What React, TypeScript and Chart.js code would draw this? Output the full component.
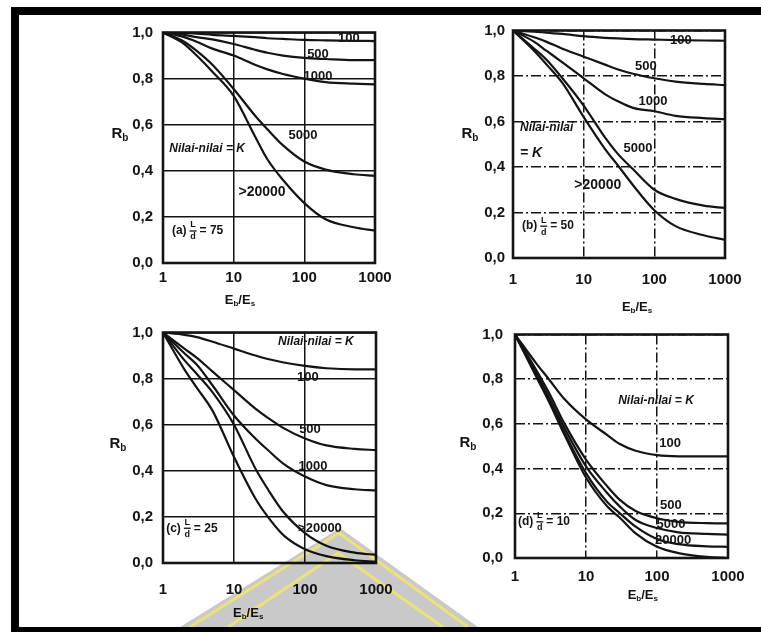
import React, { useEffect, useRef } from "react";
import { Chart, registerables } from "chart.js";

Chart.register(...registerables);

// ---------------- data ----------------
const EB_ES = [1, 2, 3, 5, 10, 20, 30, 50, 100, 200, 500, 1000];
const X_TICKS = [1, 10, 100, 1000];
const Y_TICKS = [0, 0.2, 0.4, 0.6, 0.8, 1.0];

// (a) L/d = 75
const A_K100 = [1, 0.998, 0.995, 0.99, 0.985, 0.98, 0.975, 0.972, 0.968, 0.966, 0.964, 0.963];
const A_K500 = [1, 0.99, 0.98, 0.97, 0.95, 0.925, 0.912, 0.9, 0.89, 0.885, 0.88, 0.88];
const A_K1000 = [1, 0.98, 0.96, 0.93, 0.9, 0.86, 0.84, 0.82, 0.8, 0.785, 0.778, 0.775];
const A_K5000 = [1, 0.96, 0.92, 0.86, 0.755, 0.64, 0.58, 0.51, 0.44, 0.405, 0.385, 0.378];
const A_K20000 = [1, 0.95, 0.9, 0.83, 0.725, 0.55, 0.45, 0.36, 0.26, 0.19, 0.155, 0.14];

// (b) L/d = 50
const B_K100 = [1, 0.995, 0.99, 0.985, 0.975, 0.968, 0.965, 0.962, 0.96, 0.958, 0.956, 0.955];
const B_K500 = [1, 0.97, 0.95, 0.92, 0.885, 0.85, 0.83, 0.81, 0.79, 0.775, 0.765, 0.76];
const B_K1000 = [1, 0.95, 0.91, 0.86, 0.79, 0.72, 0.69, 0.66, 0.645, 0.625, 0.615, 0.61];
const B_K5000 = [1, 0.92, 0.87, 0.79, 0.67, 0.53, 0.46, 0.39, 0.3, 0.26, 0.23, 0.22];
const B_K20000 = [1, 0.91, 0.85, 0.77, 0.62, 0.48, 0.41, 0.32, 0.21, 0.14, 0.1, 0.08];

// (c) L/d = 25
const C_K100 = [1, 0.99, 0.98, 0.96, 0.93, 0.9, 0.885, 0.87, 0.855, 0.845, 0.84, 0.84];
const C_K500 = [1, 0.93, 0.89, 0.83, 0.75, 0.67, 0.63, 0.585, 0.54, 0.51, 0.495, 0.49];
const C_K1000 = [1, 0.91, 0.86, 0.77, 0.64, 0.54, 0.49, 0.43, 0.375, 0.338, 0.32, 0.315];
const C_K5000 = [1, 0.88, 0.82, 0.74, 0.6, 0.41, 0.32, 0.22, 0.13, 0.075, 0.045, 0.035];
const C_K20000 = [1, 0.84, 0.76, 0.66, 0.46, 0.28, 0.2, 0.12, 0.06, 0.03, 0.012, 0.005];

// (d) L/d = 10
const D_K100 = [1, 0.87, 0.8, 0.71, 0.62, 0.55, 0.51, 0.48, 0.46, 0.455, 0.455, 0.455];
const D_K500 = [1, 0.84, 0.74, 0.6, 0.44, 0.32, 0.26, 0.21, 0.178, 0.162, 0.156, 0.155];
const D_K1000 = [1, 0.83, 0.72, 0.58, 0.41, 0.29, 0.23, 0.17, 0.134, 0.115, 0.108, 0.105];
const D_K5000 = [1, 0.82, 0.71, 0.56, 0.38, 0.25, 0.2, 0.14, 0.085, 0.062, 0.052, 0.05];
const D_K20000 = [1, 0.81, 0.7, 0.55, 0.36, 0.23, 0.18, 0.11, 0.05, 0.022, 0.005, 0];

// ---------------- styling ----------------
const INK = "#141414";
const FONT = '"Liberation Sans", Arial, sans-serif';
const DASH_DOT = [10, 3, 2, 3];

type Lbl = { t: string; fx: number; fy: number; italic?: boolean; align?: CanvasTextAlign; size?: number };
type PanelCfg = {
  left: number; top: number; w: number; h: number;
  padTop: number; padRight: number; yw: number; xh: number;
  ypad: number; xpad: number; dashed: boolean;
  series: number[][];
  labels: Lbl[];
  frac: { prefix: string; suffix: string; fx: number; fy: number };
  rb: { dx: number; fy: number };
  xt: { fx: number; dy: number };
};

const PANELS: PanelCfg[] = [
  {
    left: 95, top: 15, w: 305, h: 300, padTop: 10, padRight: 25, yw: 68, xh: 52, ypad: 10, xpad: 7, dashed: false,
    series: [A_K100, A_K500, A_K1000, A_K5000, A_K20000],
    labels: [
      { t: "100", fx: 0.877, fy: 0.027 },
      { t: "500", fx: 0.731, fy: 0.097 },
      { t: "1000", fx: 0.731, fy: 0.189 },
      { t: "5000", fx: 0.66, fy: 0.445 },
      { t: ">20000", fx: 0.467, fy: 0.693, size: 14 },
      { t: "Nilai-nilai = K", fx: 0.208, fy: 0.504, italic: true },
    ],
    frac: { prefix: "(a)", suffix: "= 75", fx: 0.042, fy: 0.861 },
    rb: { dx: -43, fy: 0.44 },
    xt: { fx: 0.363, dy: 37 },
  },
  {
    left: 445, top: 15, w: 316, h: 300, padTop: 8, padRight: 36, yw: 68, xh: 57, ypad: 8, xpad: 14, dashed: true,
    series: [B_K100, B_K500, B_K1000, B_K5000, B_K20000],
    labels: [
      { t: "100", fx: 0.792, fy: 0.043 },
      { t: "500", fx: 0.627, fy: 0.157 },
      { t: "1000", fx: 0.66, fy: 0.311 },
      { t: "5000", fx: 0.59, fy: 0.519 },
      { t: ">20000", fx: 0.4, fy: 0.68, size: 14 },
      { t: "Nilai-nilai", fx: 0.033, fy: 0.426, italic: true, align: "left" },
      { t: "= K", fx: 0.033, fy: 0.54, italic: true, align: "left", size: 14 },
    ],
    frac: { prefix: "(b)", suffix: "= 50", fx: 0.042, fy: 0.86 },
    rb: { dx: -43, fy: 0.455 },
    xt: { fx: 0.585, dy: 49 },
  },
  {
    left: 95, top: 315, w: 318, h: 312, padTop: 10, padRight: 37, yw: 68, xh: 64, ypad: 10, xpad: 19, dashed: false,
    series: [C_K100, C_K500, C_K1000, C_K5000, C_K20000],
    labels: [
      { t: "Nilai-nilai = K", fx: 0.718, fy: 0.042, italic: true },
      { t: "100", fx: 0.68, fy: 0.197 },
      { t: "500", fx: 0.69, fy: 0.42 },
      { t: "1000", fx: 0.704, fy: 0.58 },
      { t: ">20000", fx: 0.737, fy: 0.849 },
    ],
    frac: { prefix: "(c)", suffix: "= 25", fx: 0.015, fy: 0.849 },
    rb: { dx: -45, fy: 0.483 },
    xt: { fx: 0.4, dy: 50 },
  },
  {
    left: 445, top: 315, w: 316, h: 312, padTop: 8, padRight: 33, yw: 70, xh: 69, ypad: 12, xpad: 11, dashed: true,
    series: [D_K100, D_K500, D_K1000, D_K5000, D_K20000],
    labels: [
      { t: "Nilai-nilai = K", fx: 0.662, fy: 0.294, italic: true },
      { t: "100", fx: 0.728, fy: 0.489 },
      { t: "500", fx: 0.732, fy: 0.766 },
      { t: "5000", fx: 0.732, fy: 0.851 },
      { t: "20000", fx: 0.742, fy: 0.923 },
    ],
    frac: { prefix: "(d)", suffix: "= 10", fx: 0.014, fy: 0.838 },
    rb: { dx: -47, fy: 0.485 },
    xt: { fx: 0.6, dy: 37 },
  },
];

function drawParts(ctx: CanvasRenderingContext2D, parts: [string, boolean][], cx: number, cy: number, size: number) {
  const big = `bold ${size}px ${FONT}`;
  const small = `bold ${Math.round(size * 0.65)}px ${FONT}`;
  let total = 0;
  for (const [t, sub] of parts) {
    ctx.font = sub ? small : big;
    total += ctx.measureText(t).width;
  }
  let x = cx - total / 2;
  ctx.textAlign = "left";
  ctx.textBaseline = "middle";
  for (const [t, sub] of parts) {
    ctx.font = sub ? small : big;
    ctx.fillText(t, x, sub ? cy + size * 0.3 : cy);
    x += ctx.measureText(t).width;
  }
}

function drawFrac(ctx: CanvasRenderingContext2D, x: number, y: number, prefix: string, suffix: string) {
  ctx.textBaseline = "middle";
  ctx.textAlign = "left";
  ctx.font = `bold 12px ${FONT}`;
  ctx.fillText(prefix, x, y);
  let cx = x + ctx.measureText(prefix).width + 3;
  const fw = 7;
  ctx.font = `bold 9px ${FONT}`;
  ctx.textAlign = "center";
  ctx.fillText("L", cx + fw / 2, y - 6);
  ctx.fillText("d", cx + fw / 2, y + 6);
  ctx.fillRect(cx, y - 0.6, fw, 1.3);
  cx += fw + 3;
  ctx.textAlign = "left";
  ctx.font = `bold 12px ${FONT}`;
  ctx.fillText(suffix, cx, y);
}

function Panel({ cfg }: { cfg: PanelCfg }) {
  const ref = useRef<HTMLCanvasElement | null>(null);
  useEffect(() => {
    const canvas = ref.current;
    if (!canvas) return;
    const tickFont = { family: FONT, size: 15, weight: "bold" as const, lineHeight: 1 };
    const gridCommon = { color: INK, lineWidth: 1.5, drawTicks: false };
    const border = { display: false, dash: cfg.dashed ? DASH_DOT : [] };
    const deco = {
      id: "deco",
      afterDraw(chart: any) {
        const ctx: CanvasRenderingContext2D = chart.ctx;
        const a = chart.chartArea;
        const w = a.right - a.left;
        const h = a.bottom - a.top;
        ctx.save();
        ctx.strokeStyle = INK;
        ctx.lineWidth = 2.6;
        ctx.strokeRect(a.left, a.top, w, h);
        ctx.fillStyle = INK;
        for (const l of cfg.labels) {
          const size = l.size ?? (l.italic ? 12 : 13);
          ctx.font = `${l.italic ? "italic " : ""}bold ${size}px ${FONT}`;
          ctx.textAlign = l.align ?? "center";
          ctx.textBaseline = "middle";
          ctx.fillText(l.t, a.left + l.fx * w, a.top + l.fy * h);
        }
        drawFrac(ctx, a.left + cfg.frac.fx * w, a.top + cfg.frac.fy * h, cfg.frac.prefix, cfg.frac.suffix);
        drawParts(ctx, [["R", false], ["b", true]], a.left + cfg.rb.dx, a.top + cfg.rb.fy * h, 15);
        drawParts(ctx, [["E", false], ["b", true], ["/E", false], ["s", true]], a.left + cfg.xt.fx * w, a.bottom + cfg.xt.dy, 13);
        ctx.restore();
      },
    };
    const chart = new Chart(canvas, {
      type: "line",
      data: {
        datasets: cfg.series.map((vals, si) => ({
          label: "K" + si,
          data: EB_ES.map((x, i) => ({ x, y: vals[i] })),
          borderColor: INK,
          borderWidth: 2.2,
          pointRadius: 0,
          fill: false,
          cubicInterpolationMode: "monotone" as const,
        })),
      },
      options: {
        animation: false,
        responsive: false,
        layout: { padding: { left: 0, top: cfg.padTop, right: cfg.padRight, bottom: 0 } },
        plugins: { legend: { display: false }, tooltip: { enabled: false } },
        scales: {
          x: {
            type: "logarithmic",
            min: 1,
            max: 1000,
            afterBuildTicks: (s: any) => {
              s.ticks = X_TICKS.map((v) => ({ value: v }));
            },
            afterFit: (s: any) => {
              s.height = cfg.xh;
            },
            ticks: {
              autoSkip: false,
              maxRotation: 0,
              padding: cfg.xpad,
              color: INK,
              font: tickFont,
              callback: (v: any) => String(v),
            },
            grid: gridCommon,
            border,
          },
          y: {
            type: "linear",
            min: 0,
            max: 1,
            afterBuildTicks: (s: any) => {
              s.ticks = Y_TICKS.map((v) => ({ value: v }));
            },
            afterFit: (s: any) => {
              s.width = cfg.yw;
            },
            ticks: {
              padding: cfg.ypad,
              color: INK,
              font: tickFont,
              callback: (v: any) => Number(v).toFixed(1).replace(".", ","),
            },
            grid: gridCommon,
            border,
          },
        },
      } as any,
      plugins: [deco],
    });
    return () => chart.destroy();
  }, [cfg]);
  return (
    <canvas
      ref={ref}
      width={cfg.w}
      height={cfg.h}
      style={{ position: "absolute", left: cfg.left, top: cfg.top, width: cfg.w, height: cfg.h }}
    />
  );
}

export default function App() {
  return (
    <div style={{ position: "absolute", left: 0, top: 0, width: 761, height: 632, background: "#fff", overflow: "hidden" }}>
      {PANELS.map((p, i) => (
        <Panel key={i} cfg={p} />
      ))}
      <svg
        width={761}
        height={632}
        style={{ position: "absolute", left: 0, top: 0, mixBlendMode: "multiply", pointerEvents: "none" }}
      >
        <polygon points="340,528 478,627 180,627" fill="#c9c9c9" />
        <polyline points="190,627 339,533 468,627" fill="none" stroke="#ece27a" strokeWidth={3} />
        <polyline points="228,627 338,553 443,627" fill="none" stroke="#ece27a" strokeWidth={3} />
      </svg>
      <div style={{ position: "absolute", left: 11, top: 7, width: 750, height: 8, background: "#000" }} />
      <div style={{ position: "absolute", left: 11, top: 7, width: 8, height: 625, background: "#000" }} />
      <div style={{ position: "absolute", left: 11, top: 627, width: 750, height: 5, background: "#000" }} />
    </div>
  );
}
